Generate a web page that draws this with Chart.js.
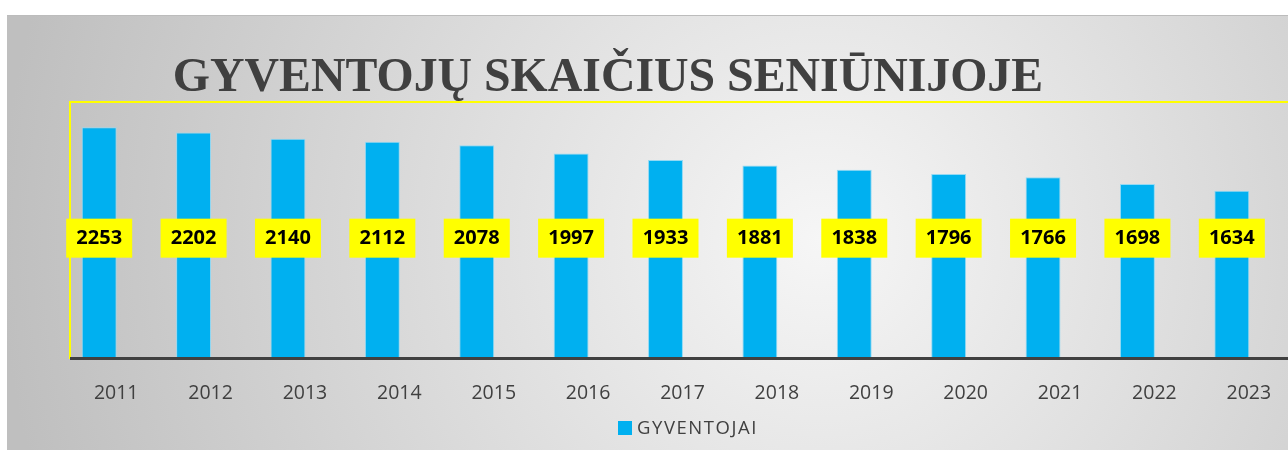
<!DOCTYPE html>
<html>
<head>
<meta charset="utf-8">
<script src="https://cdn.jsdelivr.net/npm/chart.js@4.4.1/dist/chart.umd.min.js"></script>
<style>
html,body{margin:0;padding:0;background:#fff;}
#wrap{position:absolute;left:0;top:0;width:1288px;height:450px;}
</style>
</head>
<body>
<div id="wrap"><canvas id="c" width="1288" height="450"></canvas></div>
<script>
const categories = ['2011','2012','2013','2014','2015','2016','2017','2018','2019','2020','2021','2022','2023'];
const residents = [2253, 2202, 2140, 2112, 2078, 1997, 1933, 1881, 1838, 1796, 1766, 1698, 1634];
const seriesName = 'GYVENTOJAI';
const chartTitle = 'GYVENTOJŲ SKAIČIUS SENIŪNIJOJE';

const BAR = '#00B0F0';

const decor = {
  id: 'decor',
  beforeDraw(chart) {
    const ctx = chart.ctx;
    ctx.save();
    ctx.fillStyle = '#ffffff';
    ctx.fillRect(0, 0, chart.width, chart.height);
    const g = ctx.createRadialGradient(820, 240, 0, 820, 240, 820);
    g.addColorStop(0, '#f6f6f6');
    g.addColorStop(1, '#bfbfbf');
    ctx.fillStyle = g;
    ctx.fillRect(7, 15, chart.width - 7, chart.height - 15);
    ctx.fillStyle = '#bcbcbc';
    ctx.fillRect(7, 15, chart.width - 7, 1);
    // title
    ctx.fillStyle = '#404040';
    ctx.textAlign = 'center';
    ctx.textBaseline = 'alphabetic';
    ctx.font = 'bold 50px "Liberation Serif", "Times New Roman", serif';
    const w = ctx.measureText(chartTitle).width;
    const size = 50 * 870 / w;
    ctx.font = 'bold ' + size.toFixed(1) + 'px "Liberation Serif", "Times New Roman", serif';
    ctx.fillText(chartTitle, 608, 91);
    // plot frame
    const a = chart.chartArea;
    ctx.strokeStyle = '#ffff00';
    ctx.lineWidth = 2;
    ctx.strokeRect(70, a.top, chart.width + 10 - 70, a.bottom - a.top);
    ctx.restore();
  },
  afterDatasetsDraw(chart) {
    const ctx = chart.ctx;
    const a = chart.chartArea;
    ctx.save();
    // axis line
    ctx.fillStyle = '#404040';
    ctx.fillRect(70, a.bottom - 1, chart.width - 70, 3);
    // data labels
    const meta = chart.getDatasetMeta(0);
    const ly = a.top + (a.bottom - a.top) * 0.53;
    ctx.font = 'bold 20px "Open Sans", sans-serif';
    ctx.textAlign = 'center';
    ctx.textBaseline = 'middle';
    meta.data.forEach((el, i) => {
      ctx.fillStyle = '#ffff00';
      ctx.fillRect(el.x - 33, ly - 19, 66, 39);
      ctx.fillStyle = '#000000';
      ctx.fillText(String(residents[i]), el.x, ly + 1);
    });
    // legend
    ctx.font = '18.5px "Open Sans", sans-serif';
    ctx.textAlign = 'left';
    ctx.textBaseline = 'middle';
    const raw = ctx.measureText(seriesName).width;
    const ls = Math.max(0, (121 - raw) / seriesName.length);
    ctx.letterSpacing = ls.toFixed(2) + 'px';
    ctx.fillStyle = BAR;
    ctx.fillRect(618, 421, 14, 14);
    ctx.fillStyle = '#404040';
    ctx.fillText(seriesName, 637, 429);
    ctx.restore();
  }
};

new Chart(document.getElementById('c'), {
  type: 'bar',
  data: {
    labels: categories,
    datasets: [{
      label: seriesName,
      data: residents,
      backgroundColor: BAR,
      borderColor: '#94d9f3',
      borderWidth: 1,
      barPercentage: 0.37,
      categoryPercentage: 1
    }]
  },
  options: {
    responsive: false,
    animation: false,
    events: [],
    layout: { padding: { left: 52, right: 9, top: 102, bottom: 0 } },
    plugins: { legend: { display: false }, title: { display: false }, tooltip: { enabled: false } },
    scales: {
      x: {
        grid: { display: false, drawTicks: false },
        border: { display: false },
        ticks: {
          color: '#404040',
          font: { family: '"Open Sans", sans-serif', size: 19.5 },
          padding: 24,
          labelOffset: 17,
          maxRotation: 0,
          autoSkip: false
        },
        afterFit(scale) { scale.height = 92; }
      },
      y: {
        display: false,
        min: 0,
        max: 2500
      }
    }
  },
  plugins: [decor]
});
</script>
</body>
</html>
